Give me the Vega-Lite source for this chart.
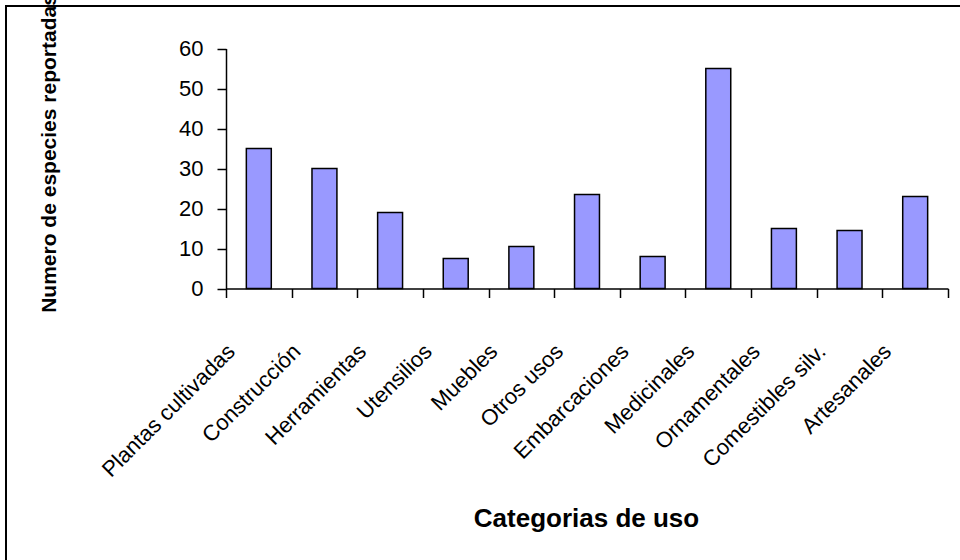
{
  "$schema": "https://vega.github.io/schema/vega-lite/v6.json",
  "autosize": {"type": "none"},
  "padding": {"left": 6, "top": 6, "right": -2, "bottom": -2},
  "width": 956,
  "height": 556,
  "background": "white",
  "data": {
    "values": [
      {"categoria": "Plantas cultivadas", "especies": 35},
      {"categoria": "Construcción", "especies": 30},
      {"categoria": "Herramientas", "especies": 19},
      {"categoria": "Utensilios", "especies": 7.5},
      {"categoria": "Muebles", "especies": 10.5},
      {"categoria": "Otros usos", "especies": 23.5},
      {"categoria": "Embarcaciones", "especies": 8},
      {"categoria": "Medicinales", "especies": 55},
      {"categoria": "Ornamentales", "especies": 15},
      {"categoria": "Comestibles silv.", "especies": 14.5},
      {"categoria": "Artesanales", "especies": 23}
    ]
  },
  "mark": {
    "type": "bar",
    "fill": "#9999FF",
    "stroke": "black",
    "strokeWidth": 1.5,
    "width": {"band": 0.38}
  },
  "encoding": {
    "x": {
      "field": "categoria",
      "type": "nominal",
      "sort": null,
      "scale": {"range": [220, 942], "paddingInner": 0, "paddingOuter": 0},
      "axis": {
        "title": "Categorias de uso",
        "orient": "bottom",
        "offset": -273.5,
        "grid": false,
        "tickBand": "extent",
        "domainColor": "black",
        "domainWidth": 1.5,
        "tickColor": "black",
        "tickWidth": 1.5,
        "tickSize": 9,
        "labelAngle": -45,
        "labelAlign": "right",
        "labelBaseline": "middle",
        "labelFont": "Liberation Sans",
        "labelFontSize": 22,
        "labelColor": "black",
        "labelPadding": 50,
        "labelOffset": -28,
        "labelOverlap": false,
        "labelLimit": 0,
        "titleFont": "Liberation Sans",
        "titleFontSize": 26,
        "titleFontWeight": "bold",
        "titleColor": "black",
        "titleX": 580,
        "titleY": 238,
        "titleAlign": "center",
        "titleBaseline": "alphabetic"
      }
    },
    "y": {
      "field": "especies",
      "type": "quantitative",
      "scale": {"domain": [0, 60], "range": [282.5, 42.5], "nice": false},
      "axis": {
        "title": "Numero de especies reportadas",
        "orient": "left",
        "offset": -220,
        "grid": false,
        "values": [0, 10, 20, 30, 40, 50, 60],
        "domainColor": "black",
        "domainWidth": 1.5,
        "tickColor": "black",
        "tickWidth": 1.5,
        "tickSize": 9,
        "labelFont": "Liberation Sans",
        "labelFontSize": 22,
        "labelColor": "black",
        "labelPadding": 14,
        "titleFont": "Liberation Sans",
        "titleFontSize": 21,
        "titleFontWeight": "bold",
        "titleColor": "black",
        "titleAngle": -90,
        "titleX": -171,
        "titleY": 147,
        "titleAlign": "center",
        "titleBaseline": "alphabetic"
      }
    }
  },
  "config": {
    "view": {"stroke": "black", "strokeWidth": 2}
  }
}
